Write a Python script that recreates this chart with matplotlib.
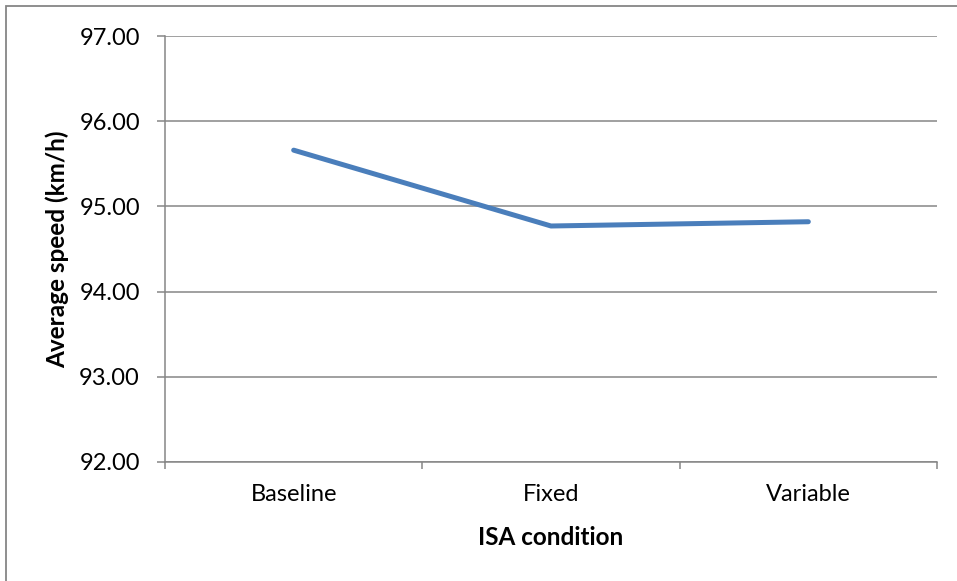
import matplotlib
matplotlib.use("Agg")
import matplotlib.pyplot as plt
from matplotlib.patches import Rectangle

# data
conditions = ["Baseline", "Fixed", "Variable"]
avg_speed = [95.66, 94.77, 94.82]
y_ticks = [92, 93, 94, 95, 96, 97]

W, H = 957, 581
fig = plt.figure(figsize=(W / 100, H / 100), dpi=100)
plt.rcParams["font.family"] = ["Lato", "DejaVu Sans"]

ax = fig.add_axes([165 / W, 1 - 462 / H, (937 - 165) / W, (462 - 36) / H])

grid_col = "#868686"
x = list(range(len(conditions)))
ax.plot(x, avg_speed, color="#4A7EBB", linewidth=3.6, solid_capstyle="round",
        solid_joinstyle="round", zorder=3)

ax.set_xlim(-0.5, len(conditions) - 0.5)
ax.set_ylim(92, 97)
ax.set_yticks(y_ticks)
ax.set_yticklabels([f"{v:.2f}" for v in y_ticks], fontsize=17)
ax.yaxis.grid(True, color=grid_col, linewidth=1.1)
ax.set_axisbelow(True)

# category labels centred, tick marks between categories
ax.set_xticks(x)
ax.set_xticklabels(conditions, fontsize=17)
ax.tick_params(axis="x", length=0, pad=16)
ax.set_xticks([i - 0.5 for i in range(len(conditions) + 1)], minor=True)
ax.tick_params(axis="x", which="minor", length=5, width=1.1, color=grid_col,
               direction="out")
ax.tick_params(axis="y", length=6, width=1.1, color=grid_col, pad=12)

for side in ["top", "right"]:
    ax.spines[side].set_visible(False)
for side in ["left", "bottom"]:
    ax.spines[side].set_color(grid_col)
    ax.spines[side].set_linewidth(1.1)

ax.set_ylabel("Average speed (km/h)", fontsize=17.5, fontweight="bold", labelpad=7)
ax.set_xlabel("ISA condition", fontsize=17.5, fontweight="bold", labelpad=15)

# outer chart border (cropped at right and bottom in the reference)
fig.patches.append(Rectangle((6 / W, -0.1), 1.1, 1 - 6 / H + 0.1,
                             transform=fig.transFigure, fill=False,
                             edgecolor=grid_col, linewidth=1.3))

fig.savefig("out.png", dpi=100)
